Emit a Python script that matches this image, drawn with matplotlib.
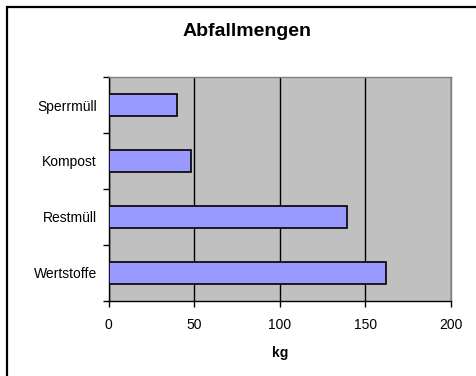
import numpy as np
import matplotlib
matplotlib.use("Agg")
import matplotlib.pyplot as plt
from matplotlib.patches import Rectangle

plt.rcParams['font.family'] = ['Liberation Sans', 'DejaVu Sans']

# Abfallmengen je Kategorie (kg), von unten nach oben
categories = ['Wertstoffe', 'Restmüll', 'Kompost', 'Sperrmüll']
amounts = [162, 139, 48, 40]
x_ticks = [0, 50, 100, 150, 200]

fig = plt.figure(figsize=(4.76, 3.76), dpi=100)
fig.patch.set_facecolor('white')

# Rahmen um das ganze Diagramm
fig.add_artist(Rectangle((6.5 / 476, -0.1), 1.2, 1 - 6.5 / 376 + 0.1,
                         transform=fig.transFigure, fill=False,
                         edgecolor='black', linewidth=1.6))

ax = fig.add_axes([0.2284, 0.1995, 0.9475 - 0.2284, 0.7952 - 0.1995])
ax.set_facecolor('#C0C0C0')

y = np.arange(len(categories))
ax.barh(y, amounts, height=0.4, color='#9999FF', edgecolor='black',
        linewidth=1.2, zorder=3)

ax.set_xlim(0, 200)
ax.set_ylim(-0.5, len(categories) - 0.5)
ax.set_xticks(x_ticks)
ax.set_xticklabels([str(t) for t in x_ticks], fontsize=10)
ax.xaxis.grid(True, color='black', linewidth=1.0, zorder=1)
ax.set_axisbelow(True)

# Kategorie-Beschriftungen mittig, Striche zwischen den Kategorien
ax.set_yticks(y)
ax.set_yticklabels(categories, fontsize=10)
ax.set_yticks(np.arange(-0.5, len(categories), 1.0), minor=True)
ax.tick_params(axis='y', which='major', length=0, pad=8.5)
ax.tick_params(axis='y', which='minor', length=4, width=1, direction='out')
ax.tick_params(axis='x', length=4, width=1, direction='out', pad=8)

for side in ['top', 'right']:
    ax.spines[side].set_color('#808080')
    ax.spines[side].set_linewidth(1.0)
for side in ['left', 'bottom']:
    ax.spines[side].set_color('black')
    ax.spines[side].set_linewidth(1.0)

ax.set_xlabel('kg', fontsize=10, fontweight='bold', labelpad=10)
fig.text(0.519, 0.916, 'Abfallmengen', ha='center', va='center',
         fontsize=14, fontweight='bold')

fig.savefig('out.png', dpi=100)
